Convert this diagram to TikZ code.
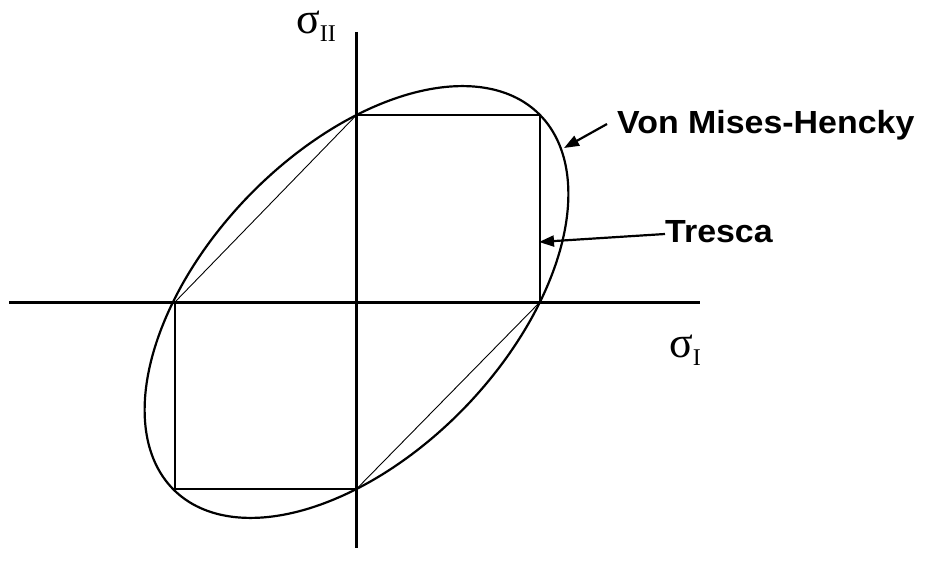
\documentclass[tikz,border=0pt]{standalone}
\usepackage{fontspec}
\setmainfont{Liberation Serif}
\newfontfamily\labfont{Liberation Sans}
\usetikzlibrary{arrows.meta}
\tikzset{
  axis/.style={line width=3pt},
  hexline/.style={line width=2pt, line join=miter},
  diag/.style={line width=0.9pt},
  curve/.style={line width=2.2pt},
  pointer/.style={line width=2.2pt, -{Triangle[length=15pt,width=11pt]}},
  lab/.style={inner sep=0pt, font=\labfont\bfseries\fontsize{32}{32}\selectfont, xscale=1.06},
  sig/.style={inner sep=0pt}
}
\newcommand{\sigmalab}[1]{\raisebox{0pt}[22pt][8pt]{{\fontsize{44}{44}\selectfont σ}\raisebox{-8pt}{\fontsize{24}{24}\selectfont #1}}}
\begin{document}
\begin{tikzpicture}[x=1pt,y=-1pt]
\useasboundingbox (0,0) rectangle (935,575);
% axes
\coordinate (xl) at (9,302);
\coordinate (xr) at (700,302);
\coordinate (yt) at (356.5,32);
\coordinate (yb) at (356.5,548);
\draw[axis] (xl) -- (xr);
\draw[axis] (yt) -- (yb);
% hexagon corners
\coordinate (A) at (356.5,115);
\coordinate (B) at (540,115);
\coordinate (C) at (540,302);
\coordinate (D) at (356.5,489);
\coordinate (E) at (175,489);
\coordinate (F) at (175,302);
\draw[hexline] (A) -- (B) -- (C);
\draw[hexline] (D) -- (E) -- (F);
\draw[diag] (F) -- (A);
\draw[diag] (C) -- (D);
% ellipse (von Mises)
\draw[curve] plot[domain=0:360, samples=181, smooth cycle]
  ({356.5+183.5*(cos(\x)-sin(\x)/sqrt(3))},{302-187*(cos(\x)+sin(\x)/sqrt(3))});
% labels
\node[lab, anchor=base west] (vm) at (617,134) {Von Mises-Hencky};
\node[lab, anchor=base west] (tr) at (665,242) {Tresca};
\coordinate (vmtip) at (564,148);
\coordinate (vmstart) at (607,124);
\coordinate (trtip) at (539,242);
\draw[pointer] (vmstart) -- (vmtip);
\draw[pointer] (tr.west |- 0,234) -- (trtip);
\node[sig, anchor=base west] (s2) at (296,34) {\sigmalab{II}};
\node[sig, anchor=base west] (s1) at (669,357) {\sigmalab{I}};
\end{tikzpicture}
\end{document}
